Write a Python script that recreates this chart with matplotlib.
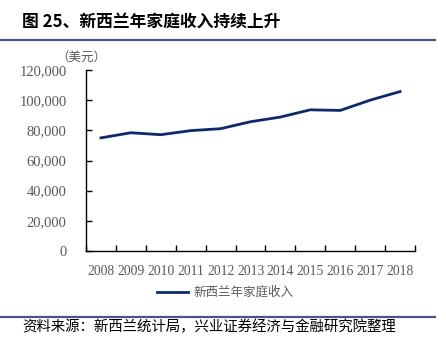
import numpy as np
import matplotlib
matplotlib.use("Agg")
import matplotlib.pyplot as plt
from matplotlib.lines import Line2D

# data
years = ['2008', '2009', '2010', '2011', '2012', '2013', '2014', '2015', '2016', '2017', '2018']
income = [75000, 78400, 77100, 79800, 81100, 85700, 88800, 93600, 93200, 100000, 105700]
yticks = [0, 20000, 40000, 60000, 80000, 100000, 120000]

title = '图 25、新西兰年家庭收入持续上升'
unit = '（美元）'
series_name = '新西兰年家庭收入'
source = '资料来源：新西兰统计局，兴业证券经济与金融研究院整理'

navy = '#0c2a6c'
rule = '#4a5485'
grey = '#595959'
cjk = ['Noto Sans CJK SC', 'DejaVu Sans']
serif = ['Liberation Serif', 'DejaVu Serif']

fig = plt.figure(figsize=(4.46, 3.40), dpi=100)
ax = fig.add_axes([86/446, 89/340, 329/446, 181/340])

x = np.arange(len(years))
ax.plot(x, income, color=navy, lw=2.0, solid_joinstyle='miter')

ax.set_xlim(-0.5, len(years) - 0.5)
ax.set_ylim(0, 120000)
ax.set_yticks(yticks)
ax.set_yticklabels([f'{v:,}' for v in yticks], family=serif, fontsize=10.5, color=grey)
ax.set_xticks(x)
ax.set_xticklabels(years, family=serif, fontsize=9.8, color=grey)
ax.set_xticks(np.arange(len(years) + 1) - 0.5, minor=True)
ax.tick_params(axis='x', which='major', length=0, pad=10)
ax.tick_params(axis='x', which='minor', direction='in', length=4, width=1, color='black')
ax.tick_params(axis='y', direction='in', length=4, width=1, color='black', pad=14)
for s in ['top', 'right']:
    ax.spines[s].set_visible(False)
for s in ['left', 'bottom']:
    ax.spines[s].set_color('black')
    ax.spines[s].set_linewidth(1.0)

# unit label
fig.text(81/446, 1 - 57/340, unit, family=cjk, fontsize=9, color=grey, ha='center', va='center')

# title and rules
fig.text(22/446, 1 - 22/340, title, family=cjk, fontsize=12.1, fontweight='bold', color='black',
         ha='left', va='center')
fig.add_artist(Line2D([0, 435/446], [1 - 39.5/340] * 2, color=rule, lw=1.6))
fig.add_artist(Line2D([0, 435/446], [1 - 316.5/340] * 2, color=rule, lw=1.6))

# legend
fig.add_artist(Line2D([157/446, 188/446], [1 - 292/340] * 2, color=navy, lw=2.0))
fig.text(193/446, 1 - 292/340, series_name, family=cjk, fontsize=9, color=grey, ha='left', va='center')

# source
fig.text(22/446, 1 - 327/340, source, family=cjk, fontsize=10.4, color='black', ha='left', va='center')

fig.savefig('out.png', dpi=100)
